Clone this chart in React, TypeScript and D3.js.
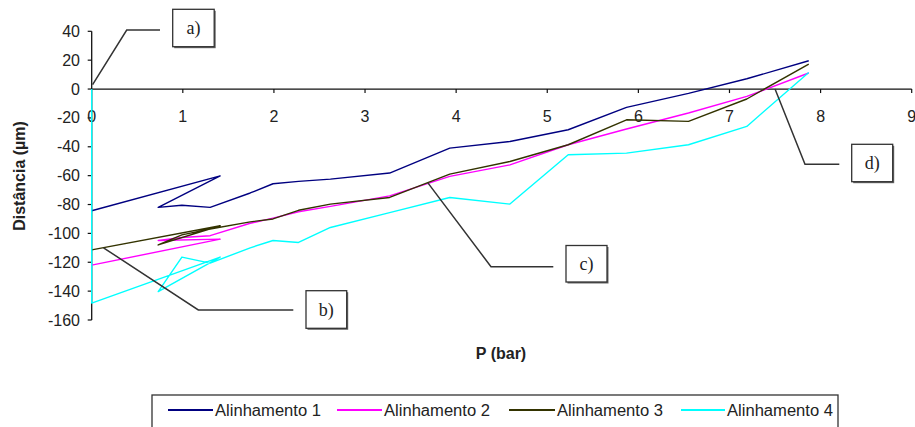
import React from "react";
import * as d3 from "d3";

const pressure = [0, 1.41, 0.73, 0.99, 1.3, 1.74, 1.99, 2.27, 2.62, 3.27, 3.93, 4.59, 5.23, 5.87, 6.55, 7.19, 7.87];
const alinhamento1 = [-84.3, -60.2, -82, -80.5, -82, -72, -65.6, -64, -62.4, -58.2, -40.9, -36.3, -28.2, -12.7, -3, 7.1, 19.6];
const alinhamento2 = [-122, -104, -104.9, -102.8, -101.6, -93, -89.4, -85, -81.3, -74, -60.5, -52.5, -38.6, -27.7, -16.6, -5.1, 11.1];
const alinhamento3 = [-111.4, -94.7, -108, -101, -97, -92, -90, -84, -79.7, -75.1, -58.9, -50.2, -38.6, -21.3, -22.4, -6.9, 17.3];
const alinhamento4Start = [0, 0];
const alinhamento4 = [-148.3, -116.4, -140.3, -116.4, -120.6, -110, -104.9, -106.3, -95.9, -85.6, -75.1, -79.7, -45.5, -44.4, -38.6, -25.9, 11.5];

const seriesNames = ["Alinhamento 1", "Alinhamento 2", "Alinhamento 3", "Alinhamento 4"];
const seriesColors = ["#000080", "#FF00FF", "#333300", "#00FFFF"];

const xTicks = [0, 1, 2, 3, 4, 5, 6, 7, 8, 9];
const yTicks = [40, 20, 0, -20, -40, -60, -80, -100, -120, -140, -160];

const annotationLabels = ["a)", "b)", "c)", "d)"];
const annotationAnchors: [number, number][] = [[0.01, 3], [0.13, -110], [3.69, -65], [7.5, 0]];

export default function App() {
  const W = 915, H = 427;
  const x = d3.scaleLinear().domain([0, 9]).range([91.7, 911.7]);
  const y = d3.scaleLinear().domain([-160, 40]).range([320, 31.3]);

  const seriesData: [number, number][][] = [
    pressure.map((p, i) => [p, alinhamento1[i]] as [number, number]),
    pressure.map((p, i) => [p, alinhamento2[i]] as [number, number]),
    pressure.map((p, i) => [p, alinhamento3[i]] as [number, number]),
    [[alinhamento4Start[0], alinhamento4Start[1]] as [number, number]].concat(
      pressure.map((p, i) => [p, alinhamento4[i]] as [number, number])
    ),
  ];

  const line = d3
    .line<[number, number]>()
    .x((d) => x(d[0]))
    .y((d) => y(d[1]));

  const font = "Arial, 'Liberation Sans', sans-serif";
  const serif = "'Times New Roman', 'Liberation Serif', serif";
  const axisColor = "#111";

  const annGeom = [
    { elbow: [126.7, 30], end: [160, 30], box: [172.7, 9.3, 41.5, 37.4] },
    { elbow: [198.3, 310], end: [293.3, 310], box: [306, 290.7, 40.7, 37.6] },
    { elbow: [491, 266.7], end: [553.3, 266.7], box: [566, 245.5, 41, 36.5] },
    { elbow: [805, 164.3], end: [839.3, 164.3], box: [851.7, 144.3, 41, 37.4] },
  ];

  const legendItems = [
    { x1: 168, x2: 213 },
    { x1: 337, x2: 382 },
    { x1: 509, x2: 555 },
    { x1: 681, x2: 725 },
  ];

  return (
    <svg
      width={W}
      height={H}
      style={{ position: "absolute", left: 0, top: 0, background: "#fff" }}
    >
      <rect x={0} y={0} width={W} height={H} fill="#fff" />

      {/* y axis */}
      <line x1={x(0)} x2={x(0)} y1={y(40)} y2={y(-160)} stroke={axisColor} strokeWidth={1.3} />
      {yTicks.map((t) => (
        <g key={"yt" + t}>
          <line x1={x(0) - 4} x2={x(0)} y1={y(t)} y2={y(t)} stroke={axisColor} strokeWidth={1.2} />
          <text
            x={80}
            y={y(t) + 5.5}
            textAnchor="end"
            fontFamily={font}
            fontSize={16}
            fill="#222"
          >
            {t}
          </text>
        </g>
      ))}

      {/* x axis */}
      <line x1={x(0)} x2={x(9)} y1={y(0)} y2={y(0)} stroke={axisColor} strokeWidth={1.3} />
      {xTicks.map((t) => (
        <g key={"xt" + t}>
          {t > 0 && (
            <line x1={x(t)} x2={x(t)} y1={y(0)} y2={y(0) + 4} stroke={axisColor} strokeWidth={1.2} />
          )}
          <text
            x={x(t)}
            y={y(0) + 33}
            textAnchor="middle"
            fontFamily={font}
            fontSize={16}
            fill="#222"
          >
            {t}
          </text>
        </g>
      ))}

      {/* series */}
      {seriesData.map((d, i) => (
        <path
          key={"s" + i}
          d={line(d) || ""}
          fill="none"
          stroke={seriesColors[i]}
          strokeWidth={1.4}
          strokeLinejoin="round"
        />
      ))}

      {/* axis titles */}
      <text
        transform={`translate(25, 176) rotate(-90)`}
        textAnchor="middle"
        fontFamily={font}
        fontWeight="bold"
        fontSize={16}
        fill="#222"
      >
        Distância (µm)
      </text>
      <text
        x={501}
        y={359}
        textAnchor="middle"
        fontFamily={font}
        fontWeight="bold"
        fontSize={16}
        fill="#222"
      >
        P (bar)
      </text>

      {/* annotations */}
      {annotationLabels.map((lab, i) => {
        const g = annGeom[i];
        const a = annotationAnchors[i];
        const [bx, by, bw, bh] = g.box;
        return (
          <g key={"ann" + i}>
            <polyline
              points={`${x(a[0])},${y(a[1])} ${g.elbow[0]},${g.elbow[1]} ${g.end[0]},${g.end[1]}`}
              fill="none"
              stroke="#333"
              strokeWidth={1.5}
            />
            <rect x={bx + 1.5} y={by + 1.5} width={bw} height={bh} fill="#666" />
            <rect x={bx} y={by} width={bw} height={bh} fill="#fff" stroke="#333" strokeWidth={1.3} />
            <text
              x={bx + bw / 2}
              y={by + bh / 2 + 6}
              textAnchor="middle"
              fontFamily={serif}
              fontSize={18}
              fill="#222"
            >
              {lab}
            </text>
          </g>
        );
      })}

      {/* legend */}
      <rect x={152} y={395} width={686} height={40} fill="#fff" stroke="#333" strokeWidth={1.3} />
      {seriesNames.map((name, i) => (
        <g key={"lg" + i}>
          <line
            x1={legendItems[i].x1}
            x2={legendItems[i].x2}
            y1={410}
            y2={410}
            stroke={seriesColors[i]}
            strokeWidth={2}
          />
          <text
            x={legendItems[i].x2 + 2}
            y={415.5}
            fontFamily={font}
            fontSize={16}
            textLength={106}
            lengthAdjust="spacingAndGlyphs"
            fill="#222"
          >
            {name}
          </text>
        </g>
      ))}
    </svg>
  );
}
